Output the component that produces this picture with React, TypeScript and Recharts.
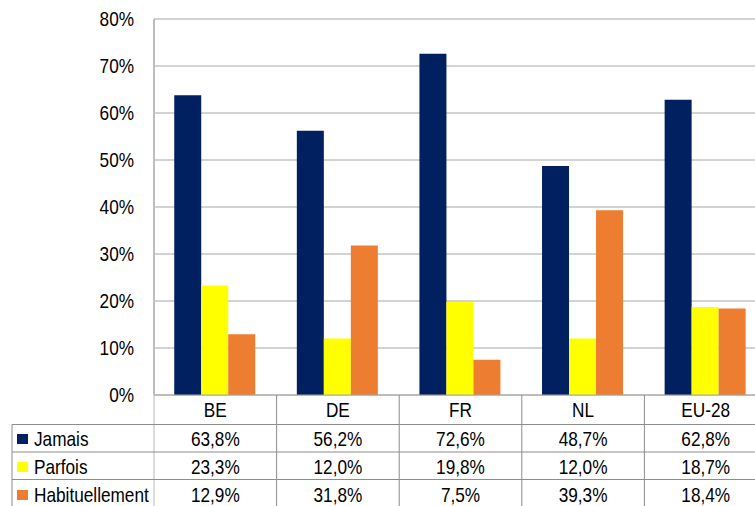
import React from 'react';
import { BarChart, Bar, XAxis, YAxis, CartesianGrid, Legend } from 'recharts';

const categories = ['BE', 'DE', 'FR', 'NL', 'EU-28'];
const jamais = [63.8, 56.2, 72.6, 48.7, 62.8];
const parfois = [23.3, 12.0, 19.8, 12.0, 18.7];
const habituellement = [12.9, 31.8, 7.5, 39.3, 18.4];
const yTicks = [0, 10, 20, 30, 40, 50, 60, 70, 80];

const series = [
  { key: 'jamais', name: 'Jamais', color: '#002060', values: jamais },
  { key: 'parfois', name: 'Parfois', color: '#FFFF00', values: parfois },
  { key: 'habituellement', name: 'Habituellement', color: '#ED7D31', values: habituellement },
];

const data = categories.map((cat, i) => ({
  cat,
  jamais: jamais[i],
  parfois: parfois[i],
  habituellement: habituellement[i],
}));

const FONT = '"Liberation Sans", Arial, sans-serif';
const CHART_W = 770;
const CHART_H = 506;
const PLOT_LEFT = 154;
const PLOT_RIGHT = 767;
const BAND = (PLOT_RIGHT - PLOT_LEFT) / categories.length;
const LINE = '#8c8c8c';
const rowLines = [29.5, 57, 84.5];
const textRows = [22, 51, 79, 107];

const fmt = (v: number) => v.toFixed(1).replace('.', ',') + '%';

// Arial Narrow look: regular sans squeezed horizontally
const NarrowText = ({ x, y, anchor = 'start', children }: any) => (
  <g transform={`translate(${x},${y}) scale(0.82,1)`}>
    <text x={0} y={0} textAnchor={anchor} fontSize={21} fill="#000" fontFamily={FONT}>
      {children}
    </text>
  </g>
);

const YTick = (props: any) => {
  const { x, y, payload } = props;
  return <NarrowText x={x} y={y + 7} anchor="end">{`${payload.value}%`}</NarrowText>;
};

// one table column per category, placed by the x axis
const TableTick = (props: any) => {
  const { x, y, payload, index } = props;
  const left = x - BAND / 2;
  return (
    <g>
      <line x1={left} x2={left} y1={y} y2={CHART_H} stroke={index === 0 ? '#b8b8b8' : LINE} />
      {rowLines.map((dy) => (
        <line key={dy} x1={left} x2={left + BAND} y1={y + dy} y2={y + dy} stroke={LINE} />
      ))}
      <NarrowText x={x} y={y + textRows[0]} anchor="middle">{payload.value}</NarrowText>
      {series.map((s, i) => (
        <NarrowText key={s.key} x={x} y={y + textRows[i + 1]} anchor="middle">
          {fmt(s.values[index])}
        </NarrowText>
      ))}
    </g>
  );
};

const TableLegend = () => (
  <svg width={PLOT_LEFT} height={CHART_H} style={{ display: 'block' }}>
    <line x1={12} x2={12} y1={395 + rowLines[0]} y2={CHART_H} stroke={LINE} />
    {rowLines.map((dy) => (
      <line key={dy} x1={12} x2={PLOT_LEFT} y1={395 + dy} y2={395 + dy} stroke={LINE} />
    ))}
    {series.map((s, i) => (
      <g key={s.key}>
        <rect x={17} y={395 + textRows[i + 1] - 12} width={11} height={10} fill={s.color} />
        <NarrowText x={34} y={395 + textRows[i + 1]}>{s.name}</NarrowText>
      </g>
    ))}
  </svg>
);

export default function App() {
  return (
    <div style={{ position: 'absolute', left: 0, top: 0, width: 755, height: 506, overflow: 'hidden', background: '#fff' }}>
      <BarChart
        width={CHART_W}
        height={CHART_H}
        data={data}
        margin={{ top: 19, right: CHART_W - PLOT_RIGHT, bottom: 0, left: 0 }}
        barCategoryGap="16.5%"
        barGap={0}
      >
        <CartesianGrid vertical={false} stroke="#a6a6a6" />
        <XAxis
          dataKey="cat"
          height={111}
          tickSize={0}
          tickMargin={0}
          axisLine={{ stroke: '#a6a6a6' }}
          tick={<TableTick />}
          interval={0}
        />
        <YAxis
          width={PLOT_LEFT}
          domain={[0, 80]}
          ticks={yTicks}
          tickSize={0}
          tickMargin={20}
          axisLine={{ stroke: '#bdbdbd', strokeWidth: 2 }}
          tickLine={false}
          tick={<YTick />}
        />
        <Legend
          layout="horizontal"
          verticalAlign="middle"
          align="center"
          content={<TableLegend />}
          wrapperStyle={{ position: 'absolute', left: 0, top: 0, width: PLOT_LEFT, height: CHART_H }}
        />
        {series.map((s) => (
          <Bar key={s.key} dataKey={s.key} name={s.name} fill={s.color} isAnimationActive={false} />
        ))}
      </BarChart>
    </div>
  );
}
